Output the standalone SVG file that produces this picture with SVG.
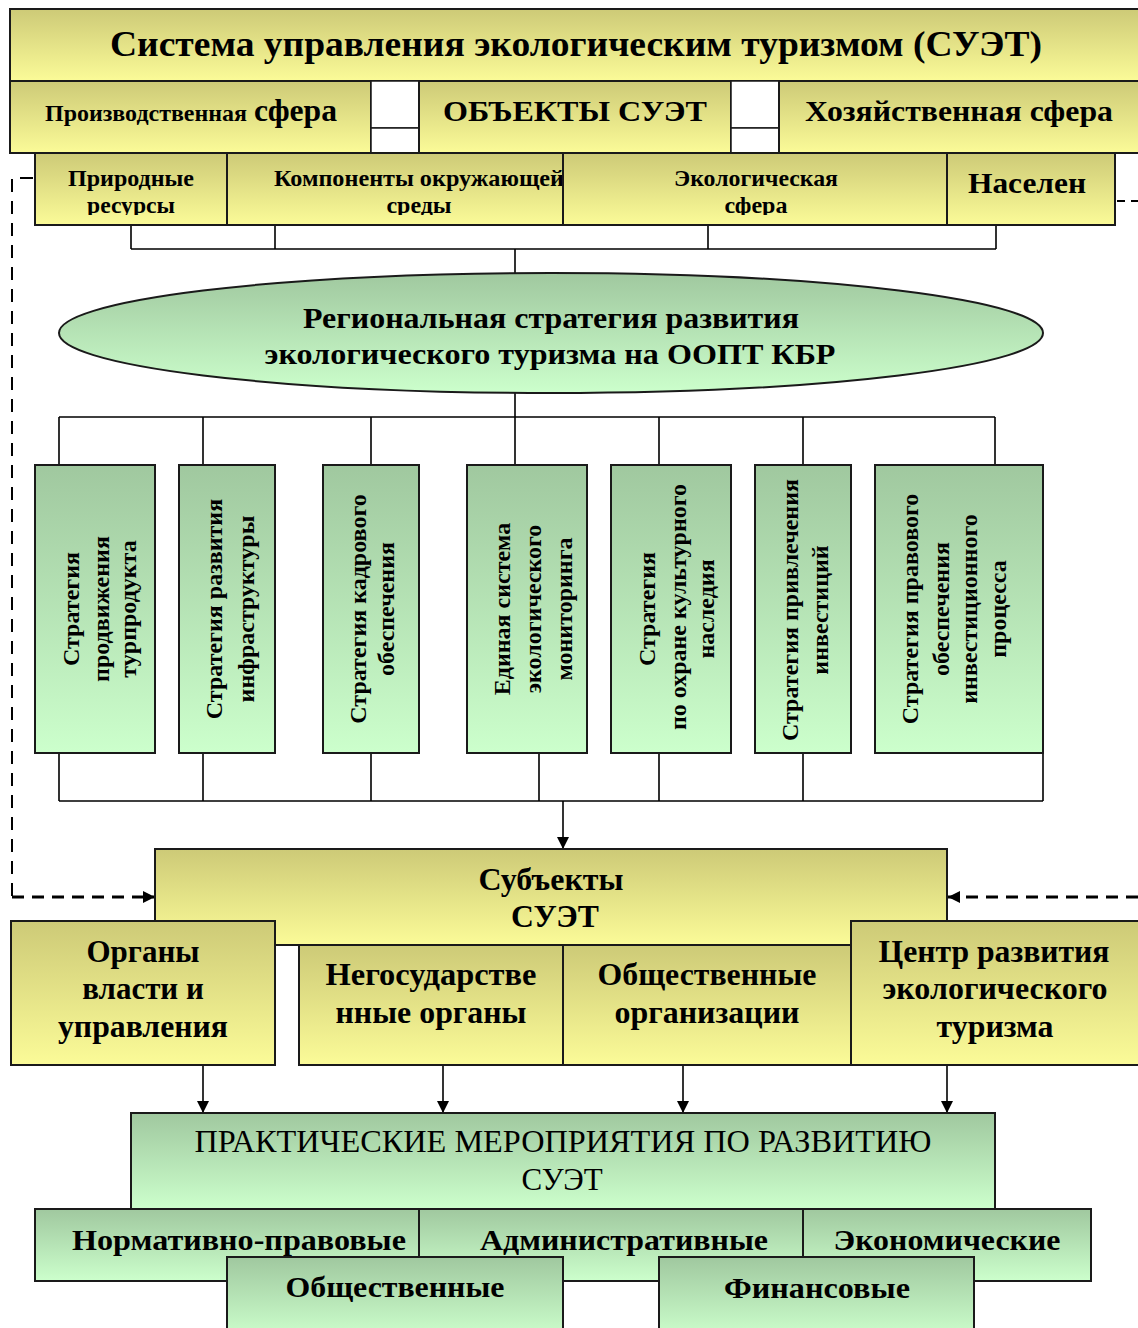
<svg xmlns="http://www.w3.org/2000/svg" width="1138" height="1328" viewBox="0 0 1138 1328">
<style>
.y{fill:url(#gy);stroke:#1a1a1a;stroke-width:2}
.g{fill:url(#gg);stroke:#1a1a1a;stroke-width:2}
.w{fill:#fff;stroke:#1a1a1a;stroke-width:1.5}
.t{font-family:"Liberation Serif","Times New Roman",serif;font-weight:bold;fill:#000;text-anchor:middle}
.r{font-weight:normal}
.v{font-family:"Liberation Serif","Times New Roman",serif;font-weight:bold;font-size:24px;fill:#000;text-anchor:middle;dominant-baseline:central}
.ln{stroke:#000;stroke-width:1.6;fill:none}
.d1{stroke:#000;stroke-width:2;fill:none;stroke-dasharray:13 9}
.d2{stroke:#000;stroke-width:3;fill:none;stroke-dasharray:12 8}
</style>
<defs>
<linearGradient id="gy" x1="0" y1="0" x2="0" y2="1"><stop offset="0" stop-color="#cdca77"/><stop offset="1" stop-color="#fbfb98"/></linearGradient>
<linearGradient id="gg" x1="0" y1="0" x2="0" y2="1"><stop offset="0" stop-color="#a0c89f"/><stop offset="1" stop-color="#ccffcc"/></linearGradient>
<marker id="ah" markerWidth="12" markerHeight="16" refX="12" refY="8" orient="auto" markerUnits="userSpaceOnUse"><path d="M0,2 L12,8 L0,14 Z" fill="#000"/></marker>
<clipPath id="row3"><rect x="0" y="153" width="1138" height="62"/></clipPath>
</defs>

<g id="connectors">
<path class="ln" d="M131,225V249M275,225V249M708,225V249M996,225V249M131,249H996M515,249V273"/>
<path class="ln" d="M563,225H612"/>
<path class="ln" d="M515,393V417M59,417H995M59,417V465M203,417V465M371,417V465M515,417V465M659,417V465M803,417V465M995,417V465"/>
<path class="ln" d="M59,753V801M203,753V801M371,753V801M539,753V801M659,753V801M803,753V801M1043,753V801M59,801H1043"/>
<path class="ln" d="M563,801V849" marker-end="url(#ah)"/>
<path class="d1" d="M33,178H12V897"/>
<path class="d2" d="M12,897H155" marker-end="url(#ah)"/>
<path class="d1" d="M1117,201H1138" style="stroke-dasharray:8 6"/>
<path class="d2" d="M1138,897H948" marker-end="url(#ah)"/>
<path class="ln" d="M203,1065V1113" marker-end="url(#ah)"/>
<path class="ln" d="M443,1065V1113" marker-end="url(#ah)"/>
<path class="ln" d="M683,1065V1113" marker-end="url(#ah)"/>
<path class="ln" d="M947,1065V1113" marker-end="url(#ah)"/>
</g>

<g id="title"><rect class="y" x="10" y="9" width="1140" height="72"/><text class="t" x="576" y="56" font-size="36" textLength="932" lengthAdjust="spacingAndGlyphs">Система управления экологическим туризмом (СУЭТ)</text></g>

<g id="prod"><rect class="y" x="10" y="81" width="361" height="72"/><text class="t" x="45" y="121" style="text-anchor:start" font-size="24"><tspan textLength="202" lengthAdjust="spacingAndGlyphs">Производственная</tspan><tspan x="254" font-size="31" textLength="83" lengthAdjust="spacingAndGlyphs">сфера</tspan></text></g>
<g id="gap1"><rect class="w" x="371" y="81" width="48" height="47"/><rect class="w" x="371" y="128" width="48" height="25"/></g>
<g id="objects"><rect class="y" x="419" y="81" width="312" height="72"/><text class="t" x="575" y="121" font-size="30" textLength="264" lengthAdjust="spacingAndGlyphs">ОБЪЕКТЫ СУЭТ</text></g>
<g id="gap2"><rect class="w" x="731" y="81" width="48" height="47"/><rect class="w" x="731" y="128" width="48" height="25"/></g>
<g id="household"><rect class="y" x="779" y="81" width="370" height="72"/><text class="t" x="959" y="121" font-size="30" textLength="308" lengthAdjust="spacingAndGlyphs">Хозяйственная сфера</text></g>

<g id="nature"><rect class="y" x="35" y="153" width="192" height="72"/><g clip-path="url(#row3)"><text class="t" x="131" y="186" font-size="24" textLength="126" lengthAdjust="spacingAndGlyphs">Природные</text><text class="t" x="131" y="213" font-size="24" textLength="88" lengthAdjust="spacingAndGlyphs">ресурсы</text></g></g>
<g id="components"><rect class="y" x="227" y="153" width="336" height="72"/><g clip-path="url(#row3)"><text class="t" x="419" y="186" font-size="24" textLength="290" lengthAdjust="spacingAndGlyphs">Компоненты окружающей</text><text class="t" x="419" y="213" font-size="24">среды</text></g></g>
<g id="ecosphere"><rect class="y" x="563" y="153" width="384" height="72"/><g clip-path="url(#row3)"><text class="t" x="756" y="186" font-size="24" textLength="164" lengthAdjust="spacingAndGlyphs">Экологическая</text><text class="t" x="756" y="213" font-size="24">сфера</text></g></g>
<g id="population"><rect class="y" x="947" y="153" width="168" height="72"/><text class="t" x="1027" y="193" font-size="30" textLength="118" lengthAdjust="spacingAndGlyphs">Населен</text></g>

<g id="strategy"><ellipse cx="551" cy="333" rx="492" ry="60" fill="url(#gg)" stroke="#1a1a1a" stroke-width="2"/><text class="t" x="551" y="328" font-size="30" textLength="496" lengthAdjust="spacingAndGlyphs">Региональная стратегия развития</text><text class="t" x="550" y="364" font-size="30" textLength="571" lengthAdjust="spacingAndGlyphs">экологического туризма на ООПТ КБР</text></g>

<g id="s1"><rect class="g" x="35" y="465" width="120" height="288"/><text class="v" transform="translate(71,609) rotate(-90)">Стратегия</text><text class="v" transform="translate(101,609) rotate(-90)">продвижения</text><text class="v" transform="translate(128,609) rotate(-90)">турпродукта</text></g>
<g id="s2"><rect class="g" x="179" y="465" width="96" height="288"/><text class="v" transform="translate(214,609) rotate(-90)">Стратегия развития</text><text class="v" transform="translate(246,609) rotate(-90)">инфраструктуры</text></g>
<g id="s3"><rect class="g" x="323" y="465" width="96" height="288"/><text class="v" transform="translate(358,609) rotate(-90)">Стратегия кадрового</text><text class="v" transform="translate(386,609) rotate(-90)">обеспечения</text></g>
<g id="s4"><rect class="g" x="467" y="465" width="120" height="288"/><text class="v" transform="translate(502,609) rotate(-90)">Единая система</text><text class="v" transform="translate(533,609) rotate(-90)">экологического</text><text class="v" transform="translate(564,609) rotate(-90)">мониторинга</text></g>
<g id="s5"><rect class="g" x="611" y="465" width="120" height="288"/><text class="v" transform="translate(647,609) rotate(-90)">Стратегия</text><text class="v" transform="translate(678,607) rotate(-90)">по охране культурного</text><text class="v" transform="translate(706,609) rotate(-90)">наследия</text></g>
<g id="s6"><rect class="g" x="755" y="465" width="96" height="288"/><text class="v" transform="translate(790,610) rotate(-90)">Стратегия привлечения</text><text class="v" transform="translate(820,610) rotate(-90)">инвестиций</text></g>
<g id="s7"><rect class="g" x="875" y="465" width="168" height="288"/><text class="v" transform="translate(910,609) rotate(-90)">Стратегия правового</text><text class="v" transform="translate(941,609) rotate(-90)">обеспечения</text><text class="v" transform="translate(969,609) rotate(-90)">инвестиционного</text><text class="v" transform="translate(998,609) rotate(-90)">процесса</text></g>

<g id="subjects"><rect class="y" x="155" y="849" width="792" height="96"/><text class="t" x="551" y="890" font-size="31" textLength="145" lengthAdjust="spacingAndGlyphs">Субъекты</text><text class="t" x="555" y="927" font-size="31" textLength="88" lengthAdjust="spacingAndGlyphs">СУЭТ</text></g>
<g id="authorities"><rect class="y" x="11" y="921" width="264" height="144"/><text class="t" x="143" y="962" font-size="31">Органы</text><text class="t" x="143" y="999" font-size="31">власти и</text><text class="t" x="143" y="1037" font-size="31" textLength="170" lengthAdjust="spacingAndGlyphs">управления</text></g>
<g id="nongov"><rect class="y" x="299" y="945" width="264" height="120"/><text class="t" x="431" y="985" font-size="31" textLength="211" lengthAdjust="spacingAndGlyphs">Негосударстве</text><text class="t" x="431" y="1023" font-size="31" textLength="191" lengthAdjust="spacingAndGlyphs">нные органы</text></g>
<g id="public"><rect class="y" x="563" y="945" width="288" height="120"/><text class="t" x="707" y="985" font-size="31" textLength="219" lengthAdjust="spacingAndGlyphs">Общественные</text><text class="t" x="707" y="1023" font-size="31" textLength="185" lengthAdjust="spacingAndGlyphs">организации</text></g>
<g id="center"><rect class="y" x="851" y="921" width="300" height="144"/><text class="t" x="994" y="962" font-size="31" textLength="231" lengthAdjust="spacingAndGlyphs">Центр развития</text><text class="t" x="995" y="999" font-size="31" textLength="225" lengthAdjust="spacingAndGlyphs">экологического</text><text class="t" x="995" y="1037" font-size="31" textLength="117" lengthAdjust="spacingAndGlyphs">туризма</text></g>

<g id="practical"><rect class="g" x="131" y="1113" width="864" height="96"/><text class="t r" x="563" y="1152" font-size="31" textLength="737" lengthAdjust="spacingAndGlyphs">ПРАКТИЧЕСКИЕ МЕРОПРИЯТИЯ ПО РАЗВИТИЮ</text><text class="t r" x="562" y="1190" font-size="31">СУЭТ</text></g>
<g id="legal"><rect class="g" x="35" y="1209" width="384" height="72"/><text class="t" x="239" y="1250" font-size="29" textLength="334" lengthAdjust="spacingAndGlyphs">Нормативно-правовые</text></g>
<g id="admin"><rect class="g" x="419" y="1209" width="384" height="72"/><text class="t" x="624" y="1250" font-size="29" textLength="288" lengthAdjust="spacingAndGlyphs">Административные</text></g>
<g id="economic"><rect class="g" x="803" y="1209" width="288" height="72"/><text class="t" x="947" y="1250" font-size="29" textLength="227" lengthAdjust="spacingAndGlyphs">Экономические</text></g>
<g id="social"><rect class="g" x="227" y="1257" width="336" height="80"/><text class="t" x="395" y="1297" font-size="30" textLength="219" lengthAdjust="spacingAndGlyphs">Общественные</text></g>
<g id="financial"><rect class="g" x="659" y="1257" width="315" height="80"/><text class="t" x="817" y="1298" font-size="30" textLength="186" lengthAdjust="spacingAndGlyphs">Финансовые</text></g>
</svg>
